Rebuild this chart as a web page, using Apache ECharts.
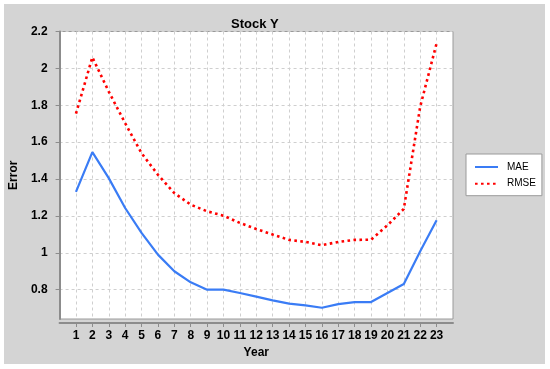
<!DOCTYPE html>
<html>
<head>
<meta charset="utf-8">
<script src="https://cdn.jsdelivr.net/npm/echarts@6/dist/echarts.min.js"></script>
<style>
html,body{margin:0;padding:0;background:#fff;}
#c{width:550px;height:369px;}
</style>
</head>
<body>
<div id="c"></div>
<script>
const years = [1,2,3,4,5,6,7,8,9,10,11,12,13,14,15,16,17,18,19,20,21,22,23];
const mae = [1.33,1.546,1.405,1.243,1.108,0.99,0.90,0.84,0.80,0.80,0.782,0.762,0.742,0.724,0.715,0.702,0.722,0.733,0.733,0.782,0.831,1.008,1.176];
const rmse = [1.755,2.06,1.874,1.703,1.54,1.423,1.324,1.261,1.225,1.201,1.162,1.129,1.099,1.070,1.059,1.041,1.059,1.070,1.071,1.149,1.238,1.793,2.136];
const yTicks = [0.8,1.0,1.2,1.4,1.6,1.8,2.0,2.2];
const seriesNames = ['MAE','RMSE'];
const titleText = 'Stock Y';
const xName = 'Year';
const yName = 'Error';

const font = 'Liberation Sans, Arial, sans-serif';
const chart = echarts.init(document.getElementById('c'), null, {renderer:'canvas'});
chart.setOption({
  backgroundColor:'#fff',
  animation:false,
  graphic:[{type:'rect', shape:{x:4,y:4,width:541,height:360}, style:{fill:'#d4d4d4'}, z:-10, silent:true}],
  title:{text:titleText, left:226, top:13,
    textStyle:{fontFamily:font, fontWeight:'bold', fontSize:13, color:'#000'}},
  grid:{left:54, top:31.5, right:97, bottom:50, show:true, backgroundColor:'#fff', borderColor:'#9a9a9a', borderWidth:1},
  legend:{orient:'vertical', left:466, top:154, data:seriesNames,
    backgroundColor:'#fff', borderColor:'#9a9a9a', borderWidth:1, borderRadius:0,
    padding:[8,6,7,8], itemWidth:23, itemHeight:10, itemGap:6.7,
    textStyle:{fontFamily:font, fontSize:10, color:'#000', padding:[0,0,0,4]}},
  xAxis:{type:'value', min:0, max:24, interval:1, offset:4,
    name:xName, nameLocation:'middle', nameGap:23,
    nameTextStyle:{fontFamily:font, fontWeight:'bold', fontSize:12, color:'#000'},
    axisLine:{show:true, lineStyle:{color:'#8c8c8c', width:2}},
    axisTick:{show:true, length:4, lineStyle:{color:'#8c8c8c'}, customValues:years},
    axisLabel:{fontFamily:font, fontWeight:'bold', fontSize:12, color:'#000', margin:7, customValues:years},
    splitLine:{show:true, lineStyle:{color:'#cfcfcf', type:[3,3], width:1}}},
  yAxis:{type:'value', min:0.641, max:2.2, offset:4,
    name:yName, nameLocation:'middle', nameGap:24, nameRotate:90,
    nameTextStyle:{fontFamily:font, fontWeight:'bold', fontSize:12, color:'#000'},
    axisLine:{show:true, lineStyle:{color:'#8c8c8c', width:2}},
    axisTick:{show:true, length:4, lineStyle:{color:'#8c8c8c'}, customValues:yTicks},
    axisLabel:{fontFamily:font, fontWeight:'bold', fontSize:12, color:'#000', margin:8, customValues:yTicks},
    splitLine:{show:true, lineStyle:{color:'#cfcfcf', type:[3,3], width:1}}},
  series:[
    {name:seriesNames[0], type:'line', symbol:'none', showSymbol:false, data:years.map((y,i)=>[y,mae[i]]),
      lineStyle:{color:'#3a7cf5', width:2.2}, itemStyle:{color:'rgba(0,0,0,0)', borderWidth:0}},
    {name:seriesNames[1], type:'line', symbol:'none', showSymbol:false, data:years.map((y,i)=>[y,rmse[i]]),
      lineStyle:{color:'#ff0000', width:2.6, type:[2.6,3.4]}, itemStyle:{color:'rgba(0,0,0,0)', borderWidth:0}}
  ]
});
</script>
</body>
</html>
